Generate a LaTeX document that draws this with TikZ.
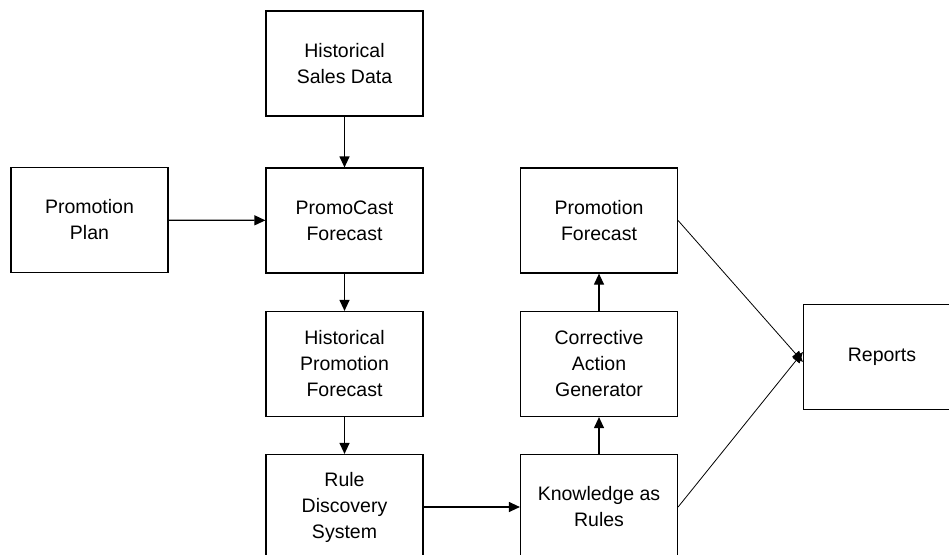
\documentclass[tikz,border=0pt]{standalone}
\usepackage{fontspec}
\setmainfont{Liberation Sans}
\usepackage{tikz}
\usetikzlibrary{arrows.meta, positioning}

\tikzset{
  box/.style={draw, line width=1.2pt, minimum width=157pt, minimum height=105pt,
    align=center, font=\fontsize{19.5}{26}\selectfont},
  flow/.style={-{Triangle[length=11pt,width=10pt]}, line width=1.2pt},
  thin flow/.style={-{Triangle[length=11pt,width=9pt]}, line width=0.8pt}
}

\begin{document}
\begin{tikzpicture}[x=1pt,y=-1pt]
\useasboundingbox (0,0) rectangle (949,554);
% left column and input
\node[box] (hsd) at (344.5,63.5) {Historical\\Sales Data};
\node[box] (plan) at (89.5,220) {Promotion\\Plan};
\node[box] (pcf) at (344.5,220.5) {PromoCast\\Forecast};
\node[box] (hpf) at (344.5,364) {Historical\\Promotion\\Forecast};
\node[box] (rds) at (344.5,507) {Rule\\Discovery\\System};
% right column
\node[box] (kar) at (599,507) {Knowledge as\\Rules};
\node[box] (cag) at (599,364) {Corrective\\Action\\Generator};
\node[box] (pf) at (599,220.5) {Promotion\\Forecast};
\node[box] (rep) at (882,357) {Reports};
% connectors
\draw[flow] (hsd) -- (pcf);
\draw[flow] (plan) -- (pcf);
\draw[flow] (pcf) -- (hpf);
\draw[flow] (hpf) -- (rds);
\draw[flow] (rds) -- (kar);
\draw[flow] (kar) -- (cag);
\draw[flow] (cag) -- (pf);
\draw[thin flow] (pf.east) -- ([yshift=-5pt]rep.west);
\draw[thin flow] (kar.east) -- ([yshift=5pt]rep.west);
\end{tikzpicture}
\end{document}
